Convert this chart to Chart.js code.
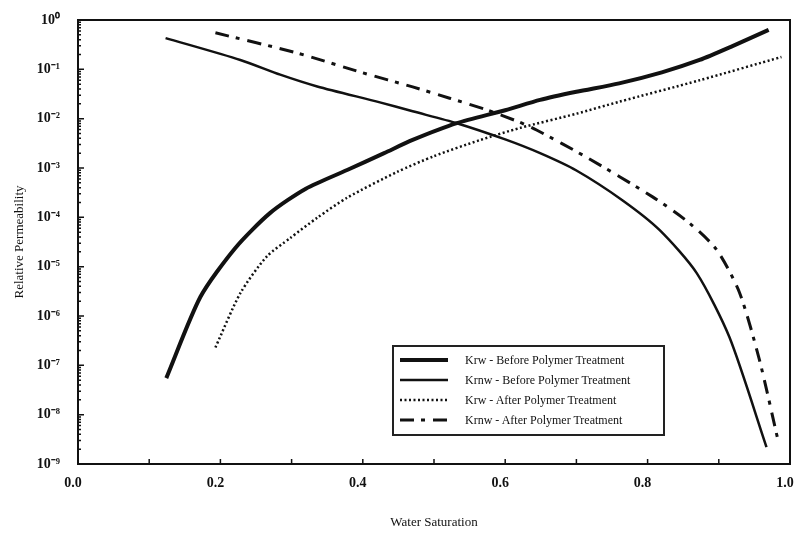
<!DOCTYPE html>
<html>
<head>
<meta charset="utf-8">
<script src="https://cdn.jsdelivr.net/npm/chart.js@4.4.1/dist/chart.umd.min.js"></script>
<style>
  body { margin: 0; background: #fff; }
  #wrap { position: relative; width: 797px; height: 533px; }
  #legendBox {
    position: absolute;
    left: 392px;
    top: 345px;
    width: 273px;
    height: 91px;
    border: 2px solid #222;
    box-sizing: border-box;
    padding-top: 3px;
    font-family: "Liberation Serif", "Times New Roman", serif;
    font-size: 12px;
    color: #111;
  }
  .legend-row { display: flex; align-items: center; height: 20px; }
  .legend-row svg { margin-left: 6px; margin-right: 17px; }
</style>
</head>
<body>
<div id="wrap">
  <canvas id="permChart"></canvas>
  <div id="legendBox"></div>
</div>
<script>
// Water saturation (x) and relative permeability (y)
const krwBeforeSw = [0.124, 0.172, 0.221, 0.27, 0.32, 0.378, 0.43, 0.47, 0.532, 0.6, 0.649, 0.7, 0.76, 0.82, 0.873, 0.92, 0.97];
const krwBeforeKr = [5.5e-8, 2.45e-6, 2.4e-5, 1.23e-4, 3.8e-4, 9.1e-4, 2.0e-3, 3.7e-3, 8.1e-3, 1.48e-2, 2.4e-2, 3.5e-2, 5.2e-2, 8.7e-2, 0.155, 0.3, 0.63];

const kroBeforeSw = [0.123, 0.228, 0.284, 0.336, 0.424, 0.47, 0.532, 0.6, 0.649, 0.7, 0.765, 0.817, 0.869, 0.915, 0.967];
const kroBeforeKr = [0.43, 0.155, 0.078, 0.045, 0.0214, 0.0141, 8.1e-3, 3.8e-3, 2.0e-3, 8.9e-4, 2.2e-4, 5.5e-5, 7.4e-6, 3.7e-7, 2.2e-9];

const krwAfterSw = [0.193, 0.228, 0.265, 0.298, 0.336, 0.378, 0.448, 0.5, 0.565, 0.621, 0.7, 0.76, 0.873, 0.988];
const krwAfterKr = [2.3e-7, 2.9e-6, 1.6e-5, 3.8e-5, 9.8e-5, 2.5e-4, 8.3e-4, 1.74e-3, 3.7e-3, 6.5e-3, 1.26e-2, 2.2e-2, 6.0e-2, 0.178];

const kroAfterSw = [0.193, 0.308, 0.4, 0.47, 0.522, 0.574, 0.62, 0.644, 0.714, 0.807, 0.859, 0.897, 0.929, 0.957, 0.983];
const kroAfterKr = [0.55, 0.214, 0.085, 0.044, 0.026, 0.0151, 8.5e-3, 5.9e-3, 1.66e-3, 2.6e-4, 7.6e-5, 2.2e-5, 3.0e-6, 1.3e-7, 3.1e-9];

const seriesNames = [
  "Krw - Before Polymer Treatment",
  "Krnw - Before Polymer Treatment",
  "Krw - After Polymer Treatment",
  "Krnw - After Polymer Treatment",
];

const xTickValues = [0, 0.2, 0.4, 0.6, 0.8, 1.0];
const yExponents = [-9, -8, -7, -6, -5, -4, -3, -2, -1, 0];
const supDigits = { "0": "⁰", "1": "¹", "2": "²", "3": "³", "4": "⁴", "5": "⁵", "6": "⁶", "7": "⁷", "8": "⁸", "9": "⁹", "-": "⁻" };

const serif = "'Liberation Serif', 'Times New Roman', serif";

function toPoints(xs, ys) {
  return xs.map((x, i) => ({ x: x, y: ys[i] }));
}

function powerLabel(exp) {
  return "10" + String(exp).split("").map((c) => supDigits[c]).join("");
}

const lineStyles = [
  { width: 4, dash: [] },
  { width: 2.5, dash: [] },
  { width: 2.5, dash: [2, 2.5] },
  { width: 3, dash: [14, 7, 4, 8] },
];

const seriesData = [
  toPoints(krwBeforeSw, krwBeforeKr),
  toPoints(kroBeforeSw, kroBeforeKr),
  toPoints(krwAfterSw, krwAfterKr),
  toPoints(kroAfterSw, kroAfterKr),
];

// inward tick marks plus the box round the plot
const frameTicks = {
  id: "frameTicks",
  afterDatasetsDraw(chart) {
    const { ctx, chartArea: a, scales } = chart;
    ctx.save();
    ctx.strokeStyle = "#111";
    ctx.lineWidth = 1.5;
    ctx.beginPath();
    for (let i = 1; i < 10; i++) {
      const px = scales.x.getPixelForValue(i / 10);
      ctx.moveTo(px, a.bottom);
      ctx.lineTo(px, a.bottom - 5);
    }
    yExponents.forEach((e) => {
      for (let m = 1; m <= 9; m++) {
        const v = m * Math.pow(10, e);
        if (v > 1) break;
        const py = scales.y.getPixelForValue(v);
        ctx.moveTo(a.left, py);
        ctx.lineTo(a.left + (m === 1 ? 6 : 3), py);
      }
    });
    ctx.stroke();
    ctx.lineWidth = 2;
    ctx.strokeRect(a.left, a.top, a.right - a.left, a.bottom - a.top);
    ctx.restore();
  },
};

function renderLegend() {
  const box = document.getElementById("legendBox");
  box.innerHTML = seriesNames
    .map((name, i) => {
      const s = lineStyles[i];
      return `
      <div class="legend-row">
        <svg width="48" height="8"><line x1="0" y1="4" x2="48" y2="4" stroke="#111" stroke-width="${s.width}" stroke-dasharray="${s.dash.join(" ")}"/></svg>
        <span>${name}</span>
      </div>`;
    })
    .join("");
}

function initChart() {
  const ctx = document.getElementById("permChart");
  new Chart(ctx, {
    type: "line",
    data: {
      datasets: seriesNames.map((name, i) => ({
        label: name,
        data: seriesData[i],
        borderColor: "#111",
        borderWidth: lineStyles[i].width,
        borderDash: lineStyles[i].dash,
        pointRadius: 0,
        tension: 0.25,
        fill: false,
      })),
    },
    options: {
      responsive: true,
      maintainAspectRatio: false,
      animation: false,
      devicePixelRatio: 1,
      layout: { padding: { top: 20, right: 7, left: 0, bottom: 0 } },
      plugins: { legend: { display: false }, tooltip: { enabled: false } },
      scales: {
        x: {
          type: "linear",
          min: 0,
          max: 1,
          grid: { display: false },
          border: { display: false },
          afterBuildTicks: (scale) => {
            scale.ticks = xTickValues.map((v) => ({ value: v }));
          },
          afterFit: (scale) => {
            scale.height = 69;
            scale.paddingLeft = 0;
            scale.paddingRight = 0;
          },
          ticks: {
            padding: 3,
            labelOffset: -5,
            color: "#111",
            font: { family: serif, size: 14, weight: "bold" },
            callback: (v) => Number(v).toFixed(1),
          },
          title: {
            display: true,
            text: "Water Saturation",
            color: "#111",
            padding: { top: 0, bottom: 3 },
            font: { family: serif, size: 13 },
          },
        },
        y: {
          type: "logarithmic",
          min: 1e-9,
          max: 1,
          grid: { display: false },
          border: { display: false },
          afterBuildTicks: (scale) => {
            scale.ticks = yExponents.map((e) => ({ value: Math.pow(10, e) }));
          },
          afterFit: (scale) => {
            scale.width = 78;
            scale.paddingTop = 0;
            scale.paddingBottom = 0;
          },
          ticks: {
            padding: 10,
            autoSkip: false,
            color: "#111",
            font: { family: serif, size: 14, weight: "bold" },
            callback: (v) => powerLabel(Math.round(Math.log10(v))),
          },
          title: {
            display: true,
            text: "Relative Permeability",
            color: "#111",
            padding: { top: 12, bottom: 0 },
            font: { family: serif, size: 13 },
          },
        },
      },
    },
    plugins: [frameTicks],
  });
}

renderLegend();
initChart();
</script>
</body>
</html>
